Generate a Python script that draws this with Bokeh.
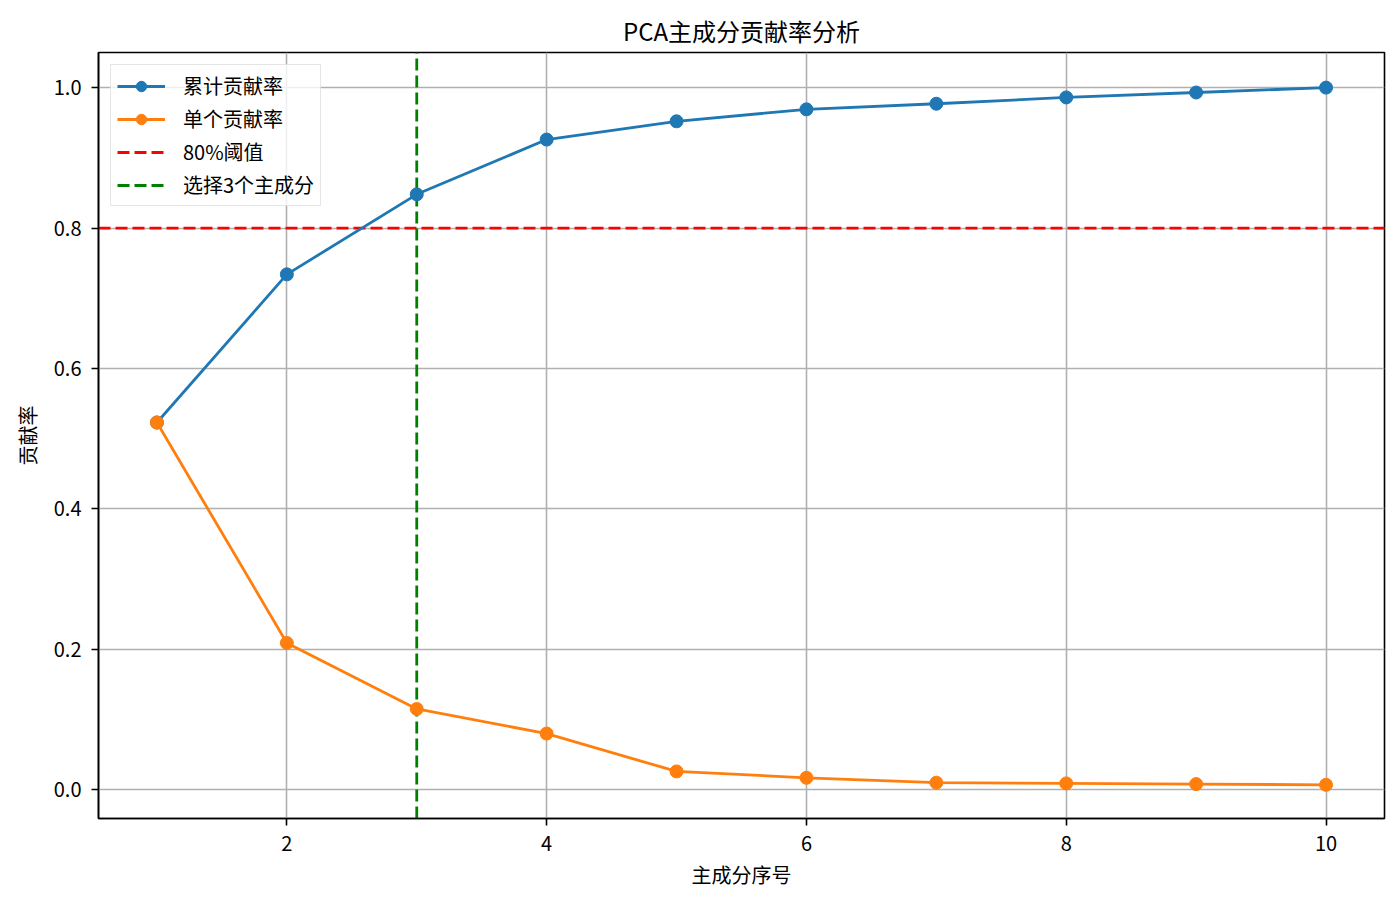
from bokeh.plotting import figure
from bokeh.models import Legend, LegendItem, FixedTicker, Range1d, ColumnDataSource, NumeralTickFormatter
from bokeh.embed import file_html
from bokeh.resources import INLINE

# datos
componentes = [1, 2, 3, 4, 5, 6, 7, 8, 9, 10]
acumulado = [0.523, 0.734, 0.848, 0.926, 0.952, 0.969, 0.977, 0.986, 0.993, 1.000]
individual = [0.523, 0.209, 0.115, 0.080, 0.026, 0.017, 0.010, 0.009, 0.008, 0.007]
umbral = 0.8
n_sel = 3
x_ticks = [2, 4, 6, 8, 10]
y_ticks = [0.0, 0.2, 0.4, 0.6, 0.8, 1.0]

FONT = "Noto Sans CJK SC"
AZUL = "#1f77b4"
NARANJA = "#ff7f0e"

xr = Range1d(0.55, 10.45)
yr = Range1d(-0.041, 1.05)

p = figure(
    frame_width=1286, frame_height=766,
    min_border_left=98, min_border_right=8, min_border_top=52, min_border_bottom=76,
    x_range=xr, y_range=yr,
    title="PCA主成分贡献率分析",
    x_axis_label="主成分序号", y_axis_label="贡献率",
    output_backend="svg", toolbar_location=None,
)

p.title.align = "center"
p.title.text_font = FONT
p.title.text_font_size = "24px"
p.title.text_font_style = "normal"
p.title.text_color = "black"
p.title.standoff = 10

p.outline_line_color = "black"
p.outline_line_width = 1.6
p.outline_line_alpha = 1

for ax in (p.xaxis, p.yaxis):
    ax.axis_label_text_font = FONT
    ax.axis_label_text_font_size = "20px"
    ax.axis_label_text_font_style = "normal"
    ax.axis_label_text_color = "black"
    ax.major_label_text_font = FONT
    ax.major_label_text_font_size = "20px"
    ax.major_label_text_color = "black"
    ax.axis_line_color = "black"
    ax.axis_line_width = 1.6
    ax.major_tick_line_color = "black"
    ax.major_tick_line_width = 1.6
    ax.major_tick_out = 7
    ax.major_tick_in = 0
    ax.minor_tick_out = 0
    ax.minor_tick_in = 0

p.xaxis.major_label_standoff = 10
p.yaxis.major_label_standoff = 10
p.xaxis.ticker = FixedTicker(ticks=x_ticks)
p.yaxis.ticker = FixedTicker(ticks=y_ticks)
p.yaxis.formatter = NumeralTickFormatter(format="0.0")
p.xaxis.axis_label_standoff = 6
p.yaxis.axis_label_standoff = 9

p.grid.grid_line_color = "#b0b0b0"
p.grid.grid_line_width = 1.6

src = ColumnDataSource(dict(x=componentes, acum=acumulado, ind=individual))

# lineas de referencia (de borde a borde del rango)
r_umbral = p.line([xr.start, xr.end], [umbral, umbral], color="red",
                  line_width=2.8, line_dash="12 5")
r_sel = p.line([n_sel, n_sel], [yr.start, yr.end], color="green",
               line_width=2.8, line_dash="12 5")

l1 = p.line("x", "acum", source=src, color=AZUL, line_width=2.8)
s1 = p.scatter("x", "acum", source=src, color=AZUL, size=13)
l2 = p.line("x", "ind", source=src, color=NARANJA, line_width=2.8)
s2 = p.scatter("x", "ind", source=src, color=NARANJA, size=13)

leyenda = Legend(items=[
    LegendItem(label="累计贡献率", renderers=[l1, s1]),
    LegendItem(label="单个贡献率", renderers=[l2, s2]),
    LegendItem(label="80%阈值", renderers=[r_umbral]),
    LegendItem(label=f"选择{n_sel}个主成分", renderers=[r_sel]),
])
leyenda.location = "top_left"
leyenda.margin = 12
leyenda.padding = 6
leyenda.spacing = 4
leyenda.glyph_width = 48
leyenda.glyph_height = 26
leyenda.label_height = 26
leyenda.label_standoff = 18
leyenda.label_text_font = FONT
leyenda.label_text_font_size = "20px"
leyenda.label_text_color = "black"
leyenda.border_line_color = "#cccccc"
leyenda.border_line_width = 1.6
leyenda.background_fill_alpha = 0.8
p.add_layout(leyenda)

open("out.html", "w").write(file_html(p, INLINE))
